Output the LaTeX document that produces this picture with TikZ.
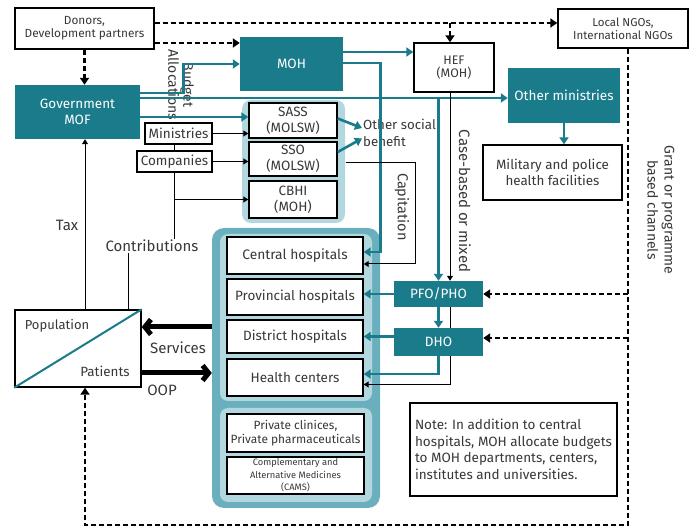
\documentclass[tikz,border=0pt]{standalone}
\usepackage{fontspec}
\setmainfont{Fira Sans}
\usetikzlibrary{arrows.meta}
\definecolor{tealmain}{HTML}{1A7B8A}
\definecolor{tealpale}{HTML}{B2D7DF}
\definecolor{tealmid}{HTML}{6AAFBD}
\definecolor{inkgray}{HTML}{383838}

\begin{document}
\begin{tikzpicture}
[x=1pt,y=-1pt,
  boxDecorate/.style={shape=rectangle,draw=black,line width=1.4pt,fill=white,
    text=inkgray,align=center,inner sep=1pt},
  tealDecorate/.style={shape=rectangle,fill=tealmain,text=white,align=center,
    inner sep=1pt,font=\fontsize{13.5}{16}\selectfont},
  labelDecorate/.style={text=inkgray,align=center,inner sep=1pt,
    font=\fontsize{15}{17}\selectfont},
  tealLine/.style={draw=tealmain,line width=2.6pt,-{Triangle[length=7pt,width=9pt]}},
  blackLine/.style={draw=black,line width=1pt,-{Triangle[length=5pt,width=6pt]}},
  dotLine/.style={draw=black,line width=2.6pt,dash pattern=on 5pt off 3pt,
    -{Triangle[length=7pt,width=9pt]}},
  bigLine/.style={draw=black,line width=5pt,-{Straight Barb[length=6pt,width=15pt]}}]
\useasboundingbox (0,0) rectangle (689,529);
%% backgrounds
\fill[tealpale,rounded corners=9pt] (242,100) rectangle (345,223);
\node (hospBack) at (296,368) [shape=rectangle,fill=tealmid,rounded corners=12pt,
  minimum width=168pt,minimum height=280pt] {};
\fill[tealpale,rounded corners=8pt] (220,234) rectangle (372,401);
\fill[tealpale,rounded corners=8pt] (220,408) rectangle (372,502);
%% white boxes
\foreach \nodename/\x/\y/\w/\h/\fs/\ls/\txt in {
  donors/84.5/28.5/139/41/11.8/13/{Donors,\\Development partners},
  ngo/623/28.5/130/39/11.5/13/{Local NGOs,\\International NGOs},
  hef/454/67.5/80/49/12.4/13.5/{HEF\\(MOH)},
  military/552.5/172.5/139/55/13.4/15.5/{Military and police\\health facilities},
  ministries/178.5/133.5/67/21/13.5/15/Ministries,
  companies/174.5/161.5/75/21/13.5/15/Companies,
  sass/293/120.5/88/35/13.5/16/{SASS\\(MOLSW)},
  sso/293/159/88/34/13.5/16/{SSO\\(MOLSW)},
  cbhi/293/199.5/88/37/13.5/16/{CBHI\\(MOH)},
  central/295/255.5/136/37/13.8/15/Central hospitals,
  provincial/295/297/136/36/13.5/15/Provincial hospitals,
  district/295/336.5/136/33/13.5/15/District hospitals,
  health/295/377.5/136/37/13.5/15/Health centers,
  private/295.5/433/137/38/11.9/14/{Private clinices,\\Private pharmaceuticals},
  cams/295.5/475.5/137/37/9.3/12.5/{Complementary and\\Alternative Medicines\\(CAMS)}}
{
  \node (\nodename) at (\x,\y) [boxDecorate,minimum width=\w pt,minimum height=\h pt,
    font=\fontsize{\fs}{\ls}\selectfont] {\txt};
}
\node (note) at (513.5,449.5) [boxDecorate,minimum width=207pt,minimum height=93pt,
  align=left,font=\fontsize{13.5}{16.5}\selectfont]
  {Note: In addition to central\\hospitals, MOH allocate budgets\\to MOH departments, centers,\\institutes and universities.};
\node (pop) at (78,348.5) [boxDecorate,minimum width=126pt,minimum height=77pt] {};
\draw[tealmain,line width=2pt] (pop.south west) -- (pop.north east);
\node (popTop) at (57,326) [labelDecorate,font=\fontsize{13}{15}\selectfont] {Population};
\node (popBot) at (105,371) [labelDecorate,font=\fontsize{13.4}{15}\selectfont] {Patients};
%% teal boxes
\foreach \nodename/\x/\y/\w/\h/\txt in {
  mof/77.5/112/125/54/{Government\\MOF},
  moh/291.5/64/103/54/MOH,
  othmin/564/95.5/112/55/Other ministries,
  pfo/438.5/294/89/26/{PFO/PHO},
  dho/438.5/342/89/28/DHO}
{
  \node (\nodename) at (\x,\y) [tealDecorate,minimum width=\w pt,minimum height=\h pt] {\txt};
}
%% labels
\node (budget) at (181,85) [labelDecorate,rotate=-90,font=\fontsize{14}{15}\selectfont] {Budget\\Allocations};
\node (benefit) at (362,132.5) [labelDecorate,anchor=west,align=left,font=\fontsize{13.3}{17}\selectfont] {Other social\\benefit};
\node (capit) at (402,207) [labelDecorate,rotate=-90,font=\fontsize{14.5}{16}\selectfont] {Capitation};
\node (casebased) at (465,201) [labelDecorate,rotate=-90] {Case-based or mixed};
\node (grant) at (661,210) [labelDecorate,rotate=-90,font=\fontsize{14}{17}\selectfont] {Grant or programme\\based channels};
\node (tax) at (67,225) [labelDecorate] {Tax};
\node (contrib) at (152,246) [labelDecorate] {Contributions};
\node (services) at (178,348) [labelDecorate] {Services};
\node (oop) at (162,390) [labelDecorate] {OOP};
%% dotted channels
\coordinate (dtop) at ([yshift=5.5pt]donors.east);
\coordinate (gtop) at ([xshift=5pt]ngo.south);
\coordinate (gbot) at ([xshift=5pt]ngo.south |- 0,525);
\draw[dotLine] (dtop) -- (dtop -| ngo.west);
\draw[dotLine] (dtop -| hef.north) ++(-4,0) -- ([xshift=-4pt]hef.north);
\draw[dotLine] ([yshift=-14.5pt]donors.east) -- ([yshift=-14.5pt]donors.east -| moh.west);
\draw[dotLine] (donors.south) -- (donors.south |- mof.north);
\draw[dotLine] (gtop) -- (gbot) -- (gbot -| 85,0) -- ([xshift=7pt]pop.south);
\draw[dotLine] (gtop |- pfo.east) -- (pfo.east);
\draw[dotLine] ([yshift=4pt]gtop |- dho.east) -- ([yshift=4pt]dho.east);
%% teal flows
\draw[tealLine] ([yshift=19pt]mof.east) -- ++(43,0) |- (moh.west);
\draw[tealLine] ([yshift=14pt]mof.east) coordinate (mofline) -- (mofline -| othmin.west);
\draw[tealLine] ([yshift=-5pt]mof.east) -- ([yshift=-5pt]mof.east -| sass.west);
\draw[tealLine] ([yshift=12pt]moh.east) -- ([yshift=12pt]moh.east -| hef.west);
\draw[tealLine] ([yshift=1pt]moh.east) -| ([xshift=17pt,yshift=3.5pt]central.east)
  -- ([yshift=3.5pt]central.east);
\draw[tealLine] (mofline -| pfo.north) -- (pfo.north);
\draw[tealLine] (pfo.south) -- (dho.north);
\draw[tealLine] (pfo.west) -- (pfo.west -| provincial.east);
\draw[tealLine] (dho.west |- district.east) -- (district.east);
\draw[tealLine] (dho.south) |- ([yshift=3.5pt]health.east);
\draw[tealLine] (othmin.south) -- (othmin.south |- military.north);
\draw[tealLine] ([yshift=2pt]sass.east) -- ([yshift=4.5pt]benefit.west);
\draw[tealLine] ([yshift=7pt]sso.east) -- ([yshift=-6pt]benefit.west);
%% black flows
\draw[blackLine] ([xshift=-4pt]hef.south) -- ([xshift=-4pt]hef.south |- pfo.north);
\draw[line width=1pt] ([xshift=12pt]pfo.south) -- ([xshift=12pt]dho.north);
\draw[blackLine] ([xshift=12pt]dho.south) |- ([yshift=-7pt]health.east);
\draw[blackLine] ([xshift=8pt,yshift=-4pt]sso.east) -| ([xshift=52pt,yshift=-8.5pt]central.east)
  -- ([yshift=-8.5pt]central.east);
\draw[blackLine] (ministries.east) -- (ministries.east -| sass.west);
\draw[blackLine] (companies.east) -- (companies.east -| sso.west);
\draw[line width=1pt] (companies.north) -- (companies.north |- ministries.south);
\draw[line width=1pt] (companies.south) -- (companies.south |- contrib.north);
\draw[blackLine] (companies.south |- cbhi.west) -- (cbhi.west);
\draw[line width=1pt] ([xshift=-13pt]pop.north east) -- ([xshift=-13pt]pop.north east |- contrib.south);
\draw[blackLine] ([xshift=7pt]pop.north) -- ([xshift=7pt]pop.north |- mof.south);
%% services and payments
\draw[bigLine] ([yshift=41pt]hospBack.west) -- ([yshift=41pt]hospBack.west -| pop.east);
\draw[bigLine] ([yshift=-5pt]hospBack.west -| pop.east) -- ([yshift=-5pt]hospBack.west);
\end{tikzpicture}
\end{document}
